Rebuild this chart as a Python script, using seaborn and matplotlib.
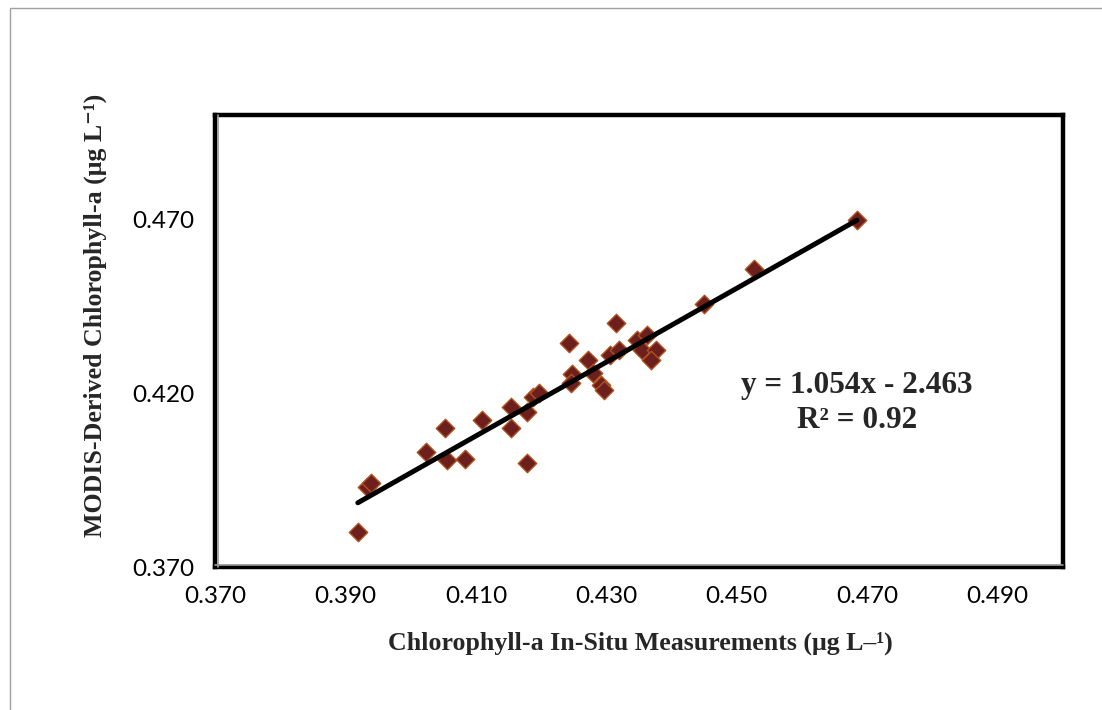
import numpy as np
import pandas as pd
import matplotlib
matplotlib.use("Agg")
import matplotlib.pyplot as plt
import seaborn as sns
from matplotlib.patches import Rectangle

# Data
in_situ = [0.3919, 0.3933, 0.3939, 0.4023, 0.4053, 0.4055, 0.4084, 0.4110,
           0.4154, 0.4154, 0.4179, 0.4187, 0.4196, 0.4179, 0.4242, 0.4248,
           0.4246, 0.4272, 0.4280, 0.4292, 0.4297, 0.4306, 0.4320, 0.4315,
           0.4347, 0.4363, 0.4355, 0.4376, 0.4369, 0.4450, 0.4527, 0.4684]
modis = [0.3801, 0.3930, 0.3942, 0.4031, 0.4100, 0.4008, 0.4011, 0.4123,
         0.4161, 0.4100, 0.4146, 0.4190, 0.4201, 0.4000, 0.4345, 0.4256,
         0.4230, 0.4294, 0.4259, 0.4224, 0.4210, 0.4311, 0.4325, 0.4403,
         0.4354, 0.4368, 0.4325, 0.4325, 0.4296, 0.4457, 0.4558, 0.4697]
x_ticks = [0.370, 0.390, 0.410, 0.430, 0.450, 0.470, 0.490]
y_ticks = [0.370, 0.420, 0.470]
equation_text = "y = 1.054x - 2.463"
r2_text = "R² = 0.92"
x_label = "Chlorophyll-a In-Situ Measurements (μg L–¹)"
y_label = "MODIS-Derived Chlorophyll-a (μg L⁻¹)"

df = pd.DataFrame({"in_situ": in_situ, "modis": modis})

sns.set_style("white")
plt.rcParams["font.family"] = ["Lato", "DejaVu Sans"]

W, H = 1102, 710
fig = plt.figure(figsize=(W / 100, H / 100), dpi=100)
ax = fig.add_axes([215 / W, 1 - 567 / H, (1063 - 215) / W, (567 - 115) / H])

# outer light grey border
fig.patches.append(Rectangle((9.5 / W, -0.05), 1.2, 1 - 7.5 / H + 0.05,
                             transform=fig.transFigure, fill=False,
                             edgecolor="#a0a0a0", linewidth=1.0, zorder=0))

sns.regplot(data=df, x="in_situ", y="modis", ax=ax, ci=None, marker="D",
            scatter_kws=dict(s=88, color="#6d1f1d", edgecolors="#b0521f",
                             linewidths=1.0, alpha=1),
            line_kws=dict(color="black", linewidth=3.6, solid_capstyle="round"))

ax.set_xlim(0.370, 0.500)
ax.set_ylim(0.370, 0.500)
ax.set_xticks(x_ticks)
ax.set_yticks(y_ticks)
ax.set_xticklabels([f"{v:.3f}" for v in x_ticks])
ax.set_yticklabels([f"{v:.3f}" for v in y_ticks])
ax.tick_params(axis="both", labelsize=17.5, colors="#9a9a9a", labelcolor="black",
               length=6, width=1, direction="out")
ax.tick_params(axis="x", pad=8)
ax.tick_params(axis="y", pad=9)
ax.set_xlabel("")
ax.set_ylabel("")

for sp in ax.spines.values():
    sp.set_visible(True)
    sp.set_color("black")
    sp.set_linewidth(3.2)

# grey axis lines inside the frame on left and bottom
ax.plot([0.003, 0.003], [0, 1], transform=ax.transAxes, color="#9a9a9a",
        lw=1.2, clip_on=False, zorder=5)
ax.plot([0, 1], [0.005, 0.005], transform=ax.transAxes, color="#9a9a9a",
        lw=1.2, clip_on=False, zorder=5)

serif = ["Liberation Serif", "DejaVu Serif"]
fig.text(640 / W, 1 - 643 / H, x_label, ha="center", va="center",
         fontsize=18.6, fontweight="bold", family=serif)
fig.text(95 / W, 1 - 315 / H, y_label, ha="center", va="center",
         rotation=90, fontsize=18.6, fontweight="bold", family=serif)

fig.text(857 / W, 1 - 385 / H, equation_text, ha="center", va="center",
         fontsize=22.5, fontweight="bold", family=serif)
fig.text(857 / W, 1 - 420 / H, r2_text, ha="center", va="center",
         fontsize=22.5, fontweight="bold", family=serif)

fig.savefig("out.png", dpi=100)
